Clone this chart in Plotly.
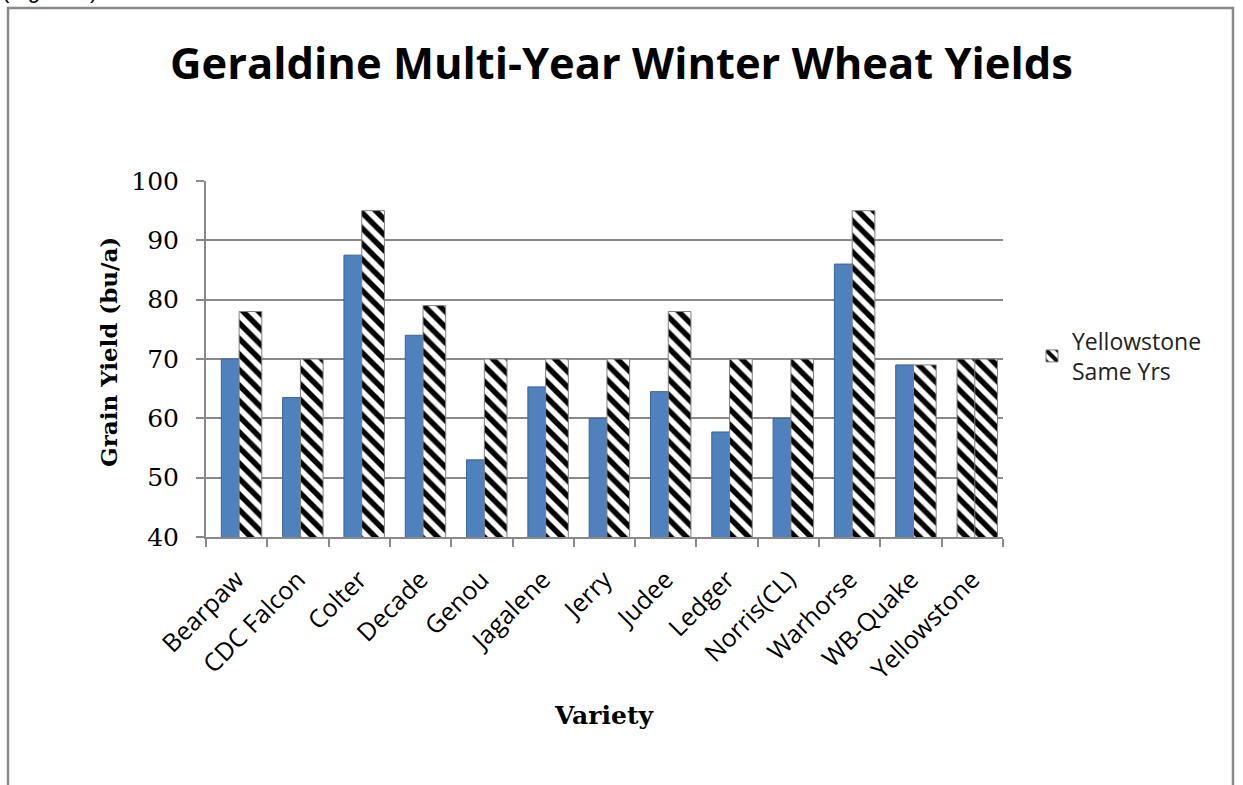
import plotly.graph_objects as go

# Geraldine multi-year winter wheat yields (bu/a)
varieties = ['Bearpaw', 'CDC Falcon', 'Colter', 'Decade', 'Genou', 'Jagalene', 'Jerry',
             'Judee', 'Ledger', 'Norris(CL)', 'Warhorse', 'WB-Quake', 'Yellowstone']
variety_yield = [70, 63.5, 87.5, 74, 53, 65.3, 60, 64.5, 57.7, 60, 86, 69, 70]
yellowstone_same_yrs = [78, 70, 95, 79, 70, 70, 70, 78, 70, 70, 95, 69, 70]

y_ticks = [40, 50, 60, 70, 80, 90, 100]

# plot area in pixels (used to place the frame and free-standing labels)
W, H = 1243, 785
L, R, T, B = 206, 240, 181, 248
pw, ph = W - L - R, H - T - B


def px_x(x):
    return (x - L) / pw


def px_y(y):
    return (H - B - y) / ph


BLUE = '#4F81BD'
GRID = '#898989'
hatch = dict(shape='\\', fgcolor='black', bgcolor='white', fgopacity=1, size=11, solidity=0.5)

fig = go.Figure()

# variety yields (no legend entry in the original)
fig.add_trace(go.Bar(
    x=varieties[:-1],
    y=variety_yield[:-1],
    name='Variety',
    showlegend=False,
    offset=-0.25,
    width=0.3,
    marker=dict(color=BLUE, line=dict(color='#3A6597', width=1)),
))

# the Yellowstone row is drawn hatched for both series in the original
fig.add_trace(go.Bar(
    x=varieties[-1:],
    y=variety_yield[-1:],
    name='Yellowstone',
    showlegend=False,
    offset=-0.25,
    width=0.3,
    marker=dict(color='white', line=dict(color='#808080', width=1), pattern=hatch),
))

fig.add_trace(go.Bar(
    x=varieties,
    y=yellowstone_same_yrs,
    name='Yellowstone<br>Same Yrs',
    offset=0.04,
    width=0.37,
    marker=dict(color='white', line=dict(color='#808080', width=1), pattern=hatch),
))

fig.update_layout(
    width=W,
    height=H,
    margin=dict(l=L, r=R, t=T, b=B),
    paper_bgcolor='white',
    plot_bgcolor='white',
    barmode='group',
    title=dict(
        text='<b>Geraldine Multi-Year Winter Wheat Yields</b>',
        font=dict(family='Open Sans, Lato, sans-serif', size=43.5, color='black'),
        x=0.5, xanchor='center',
        y=1 - 64 / H, yanchor='middle',
    ),
    legend=dict(
        x=px_x(1032), y=px_y(356), xanchor='left', yanchor='middle',
        font=dict(family='Open Sans, Lato, sans-serif', size=23, color='#222222'),
        bgcolor='rgba(0,0,0,0)',
    ),
    showlegend=True,
)

fig.update_yaxes(
    range=[40, 100],
    tickvals=y_ticks,
    showgrid=True,
    gridcolor=GRID,
    gridwidth=2,
    showline=True,
    linecolor=GRID,
    linewidth=2,
    ticks='outside',
    ticklen=8,
    tickwidth=2,
    tickcolor=GRID,
    tickfont=dict(family='DejaVu Serif, Liberation Serif, serif', size=25, color='black'),
    ticklabelstandoff=12,
    zeroline=False,
)

fig.update_xaxes(
    categoryorder='array',
    categoryarray=varieties,
    showline=True,
    linecolor=GRID,
    linewidth=2,
    ticks='outside',
    tickson='boundaries',
    ticklen=8,
    tickwidth=2,
    tickcolor=GRID,
    tickangle=-45,
    tickfont=dict(family='Open Sans, Lato, sans-serif', size=25, color='black'),
    ticklabelstandoff=16,
)

# axis titles as free labels so they sit where the original has them
fig.add_annotation(
    text='<b>Grain Yield (bu/a)</b>', xref='paper', yref='paper',
    x=px_x(108), y=px_y(352), xanchor='center', yanchor='middle',
    textangle=-90, showarrow=False,
    font=dict(family='DejaVu Serif, Liberation Serif, serif', size=23, color='black'),
)
fig.add_annotation(
    text='<b>Variety</b>', xref='paper', yref='paper',
    x=px_x(604), y=px_y(715), xanchor='center', yanchor='middle',
    showarrow=False,
    font=dict(family='DejaVu Serif, Liberation Serif, serif', size=25, color='black'),
)

# outer chart frame
fig.add_shape(
    type='rect', xref='paper', yref='paper',
    x0=px_x(8), x1=px_x(1233), y0=px_y(830), y1=px_y(8),
    line=dict(color=GRID, width=2.5), fillcolor='rgba(0,0,0,0)', layer='below',
)

# figure label above the frame, mostly cut off by the page edge as in the original
fig.add_annotation(
    text='(Figure 3)', xref='paper', yref='paper',
    x=px_x(0), y=px_y(5), xanchor='left', yanchor='bottom',
    showarrow=False,
    font=dict(family='Liberation Sans, Arial, sans-serif', size=22, color='black'),
)

# drop the default body margin so figure pixels line up with the page
fig.write_html('out.html', config={'displayModeBar': False},
               post_script="document.body.style.margin='0';")
